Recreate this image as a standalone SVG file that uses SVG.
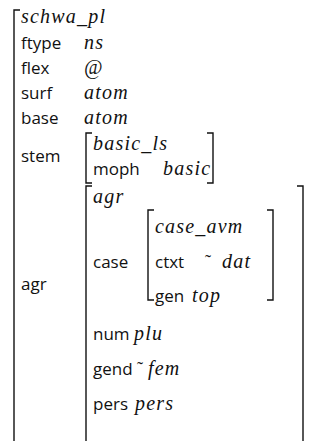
<svg xmlns="http://www.w3.org/2000/svg" width="327" height="441" viewBox="0 0 327 441">
<style>
.s{font-family:"Open Sans","Liberation Sans",sans-serif;font-size:17px;fill:#111}
.i{font-family:"Liberation Serif",serif;font-style:italic;font-size:20px;letter-spacing:1.2px;fill:#111}
.t{font-family:"Liberation Serif",serif;font-size:18px;fill:#111}
.b{fill:none;stroke:#111;stroke-width:1.4}
</style>
<rect width="327" height="441" fill="#fff"/>
<g id="outer">
<path class="b" d="M20,10 H14 V441"/>
<text class="i" x="21" y="23">schwa_pl</text>
<text class="s" x="21" y="49">ftype</text><text class="i" x="84" y="49">ns</text>
<text class="s" x="21" y="74">flex</text><text class="i" x="84" y="74">@</text>
<text class="s" x="21" y="99">surf</text><text class="i" x="84" y="99">atom</text>
<text class="s" x="21" y="124">base</text><text class="i" x="84" y="124">atom</text>
<text class="s" x="21" y="162">stem</text>
<text class="s" x="21" y="290">agr</text>
</g>
<g id="stem">
<path class="b" d="M92,133 H86 V183 H92"/>
<path class="b" d="M207,133 H213 V183 H207"/>
<text class="i" x="93" y="150">basic_ls</text>
<text class="s" x="93" y="175">moph</text><text class="i" x="163" y="175">basic</text>
</g>
<g id="agr">
<path class="b" d="M92,186 H86 V441"/>
<path class="b" d="M297,186 H303 V441"/>
<text class="i" x="93" y="203">agr</text>
<text class="s" x="93" y="268">case</text>
<text class="s" x="93" y="340">num</text><text class="i" x="134" y="340">plu</text>
<text class="s" x="93" y="375">gend</text><text class="t" x="137" y="375">˜</text><text class="i" x="148" y="375">fem</text>
<text class="s" x="93" y="410">pers</text><text class="i" x="135" y="410">pers</text>
</g>
<g id="case">
<path class="b" d="M154,210 H148 V300 H154"/>
<path class="b" d="M267,210 H273 V300 H267"/>
<text class="i" x="155" y="233" letter-spacing="2.5">case_avm</text>
<text class="s" x="155" y="268">ctxt</text><text class="t" x="205" y="268">˜</text><text class="i" x="222" y="268">dat</text>
<text class="s" x="155" y="302">gen</text><text class="i" x="192" y="302">top</text>
</g>
<g id="connectors"></g>
</svg>
